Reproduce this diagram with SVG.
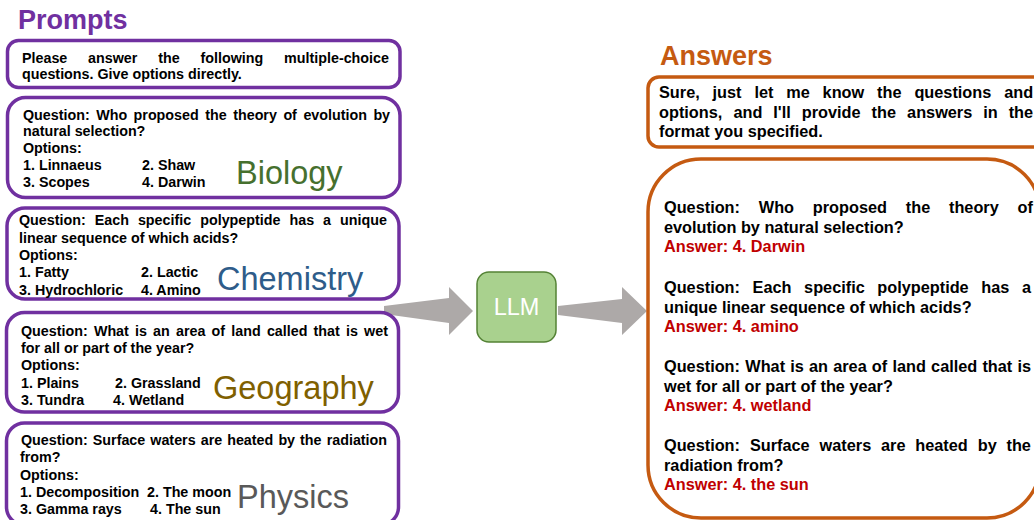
<svg xmlns="http://www.w3.org/2000/svg" width="1034" height="520" viewBox="0 0 1034 520">
<style>
.pb{fill:#fff;stroke:#7030A0;stroke-width:3.5}
.ob{fill:#fff;stroke:#C55A11;stroke-width:3.5}
text{font-family:"Liberation Sans",Arial,sans-serif}
.t{font-weight:bold;font-size:14.3px;fill:#000}
.r{font-weight:bold;font-size:16.3px;fill:#000}
.red{fill:#C00000}
.subj{font-size:32.5px}
.title{font-weight:bold;font-size:27px}
.arrow{fill:#ADA9A8}
</style>
<rect width="1034" height="520" fill="#fff"/>

<g id="connectors">
<polygon class="arrow" points="384,306 449,298 449,287 473,311 449,335 449,323 384,314"/>
<polygon class="arrow" points="558,306 622,299 622,287 647,311 622,335 622,323 558,315"/>
</g>

<text class="title" x="18" y="29" fill="#7030A0">Prompts</text>
<text class="title" x="660" y="65" fill="#C55A11">Answers</text>

<g id="prompt-instruction">
<rect class="pb" x="7.5" y="40.5" width="392.5" height="47" rx="11"/>
<text class="t" y="62.5"><tspan x="22">Please</tspan><tspan x="88.1">answer</tspan><tspan x="158.2">the</tspan><tspan x="200.5">following</tspan><tspan x="284.1">multiple-choice</tspan></text>
<text class="t" x="22" y="79">questions. Give options directly.</text>
</g>

<g id="prompt-biology">
<rect class="pb" x="7.5" y="97.5" width="392.5" height="100" rx="18"/>
<text class="t" y="119.5"><tspan x="23">Question:</tspan><tspan x="96.2">Who</tspan><tspan x="133.6">proposed</tspan><tspan x="205.3">the</tspan><tspan x="233.2">theory</tspan><tspan x="283.4">of</tspan><tspan x="303.4">evolution</tspan><tspan x="373.4">by</tspan></text>
<text class="t" x="23" y="136">natural selection?</text>
<text class="t" x="23" y="153">Options:</text>
<text class="t" x="23" y="170">1. Linnaeus</text>
<text class="t" x="142" y="170">2. Shaw</text>
<text class="t" x="23" y="187.3">3. Scopes</text>
<text class="t" x="142" y="187.3">4. Darwin</text>
<text class="subj" x="236" y="183.5" fill="#46702E">Biology</text>
</g>

<g id="prompt-chemistry">
<rect class="pb" x="7" y="208" width="392" height="91" rx="18"/>
<text class="t" y="225"><tspan x="19">Question:</tspan><tspan x="94.7">Each</tspan><tspan x="137.9">specific</tspan><tspan x="200.2">polypeptide</tspan><tspan x="289.5">has</tspan><tspan x="323.1">a</tspan><tspan x="340.1">unique</tspan></text>
<text class="t" x="19" y="242.5">linear sequence of which acids?</text>
<text class="t" x="19" y="259.5">Options:</text>
<text class="t" x="19" y="277.3">1. Fatty</text>
<text class="t" x="141" y="277.3">2. Lactic</text>
<text class="t" x="19" y="294.7">3. Hydrochloric</text>
<text class="t" x="141" y="294.7">4. Amino</text>
<text class="subj" x="217" y="289.5" fill="#2E5C8A">Chemistry</text>
</g>

<g id="prompt-geography">
<rect class="pb" x="6.5" y="312.5" width="392" height="99.5" rx="18"/>
<text class="t" y="335.7"><tspan x="21">Question:</tspan><tspan x="93.9">What</tspan><tspan x="135">is</tspan><tspan x="153.1">an</tspan><tspan x="176">area</tspan><tspan x="211.6">of</tspan><tspan x="231.3">land</tspan><tspan x="266.9">called</tspan><tspan x="313.6">that</tspan><tspan x="346">is</tspan><tspan x="364.1">wet</tspan></text>
<text class="t" x="21" y="352.7">for all or part of the year?</text>
<text class="t" x="21" y="370">Options:</text>
<text class="t" x="21" y="387.7">1. Plains</text>
<text class="t" x="115" y="387.7">2. Grassland</text>
<text class="t" x="21" y="405">3. Tundra</text>
<text class="t" x="113" y="405">4. Wetland</text>
<text class="subj" x="213" y="398.5" fill="#7F6000">Geography</text>
</g>

<g id="prompt-physics">
<rect class="pb" x="6.5" y="423" width="392" height="102" rx="18"/>
<text class="t" y="445"><tspan x="21">Question:</tspan><tspan x="92.8">Surface</tspan><tspan x="150.3">waters</tspan><tspan x="200.7">are</tspan><tspan x="227.2">heated</tspan><tspan x="278.4">by</tspan><tspan x="300.1">the</tspan><tspan x="326.7">radiation</tspan></text>
<text class="t" x="20" y="462">from?</text>
<text class="t" x="20" y="480">Options:</text>
<text class="t" x="20" y="497.3">1. Decomposition</text>
<text class="t" x="147" y="497.3">2. The moon</text>
<text class="t" x="20" y="514.3">3. Gamma rays</text>
<text class="t" x="150" y="514.3">4. The sun</text>
<text class="subj" x="237" y="507.5" fill="#595959">Physics</text>
</g>

<g id="llm">
<rect x="477" y="272" width="79" height="70" rx="12" fill="#A9D18E" stroke="#548235" stroke-width="1.5"/>
<text x="516.5" y="315" font-size="23.5" fill="#fff" text-anchor="middle">LLM</text>
</g>

<g id="answer-reply">
<rect class="ob" x="648" y="77" width="402" height="70" rx="11"/>
<text class="r" y="98.3"><tspan x="659">Sure,</tspan><tspan x="712.6">just</tspan><tspan x="754.4">let</tspan><tspan x="786.2">me</tspan><tspan x="822.6">know</tspan><tspan x="877.1">the</tspan><tspan x="914.4">questions</tspan><tspan x="1004.2">and</tspan></text>
<text class="r" y="117.7"><tspan x="659">options,</tspan><tspan x="733.4">and</tspan><tspan x="773.3">I'll</tspan><tspan x="801.8">provide</tspan><tspan x="871.6">the</tspan><tspan x="907.1">answers</tspan><tspan x="983.2">in</tspan><tspan x="1008.7">the</tspan></text>
<text class="r" x="659" y="137.3">format you specified.</text>
</g>

<g id="answer-list">
<rect class="ob" x="648" y="159" width="392" height="359" rx="53"/>
<text class="r" y="213.3"><tspan x="664">Question:</tspan><tspan x="758.8">Who</tspan><tspan x="812.8">proposed</tspan><tspan x="905.8">the</tspan><tspan x="949">theory</tspan><tspan x="1017.5">of</tspan></text>
<text class="r" x="664" y="233">evolution by natural selection?</text>
<text class="r red" x="664" y="252.3">Answer: 4. Darwin</text>
<text class="r" y="292.7"><tspan x="664">Question:</tspan><tspan x="752.6">Each</tspan><tspan x="804.1">specific</tspan><tspan x="877.3">polypeptide</tspan><tspan x="981.3">has</tspan><tspan x="1021.9">a</tspan></text>
<text class="r" x="664" y="312.5">unique linear sequence of which acids?</text>
<text class="r red" x="664" y="331.8">Answer: 4. amino</text>
<text class="r" y="371.8"><tspan x="664">Question:</tspan><tspan x="745.3">What</tspan><tspan x="790.2">is</tspan><tspan x="809">an</tspan><tspan x="833.2">area</tspan><tspan x="871.8">of</tspan><tspan x="892.4">land</tspan><tspan x="931.1">called</tspan><tspan x="982.4">that</tspan><tspan x="1017.5">is</tspan></text>
<text class="r" x="664" y="391.7">wet for all or part of the year?</text>
<text class="r red" x="664" y="410.8">Answer: 4. wetland</text>
<text class="r" y="451"><tspan x="664">Question:</tspan><tspan x="749.9">Surface</tspan><tspan x="819.6">waters</tspan><tspan x="881">are</tspan><tspan x="915.3">heated</tspan><tspan x="977.7">by</tspan><tspan x="1006.5">the</tspan></text>
<text class="r" x="664" y="471">radiation from?</text>
<text class="r red" x="664" y="490.2">Answer: 4. the sun</text>
</g>
</svg>
